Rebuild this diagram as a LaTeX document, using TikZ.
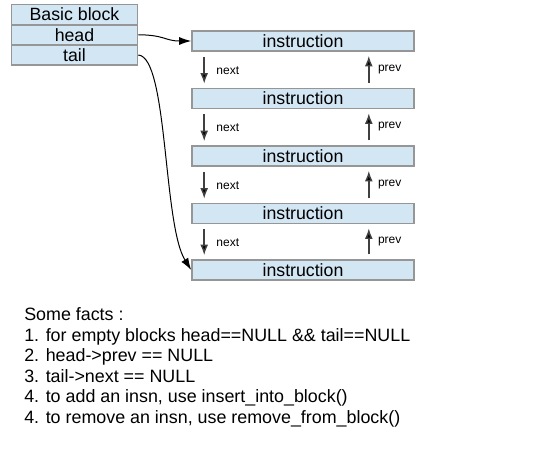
\documentclass[tikz,border=0pt]{standalone}
\usepackage{fontspec}
\setmainfont{Liberation Sans}
\usetikzlibrary{arrows.meta,calc}
\definecolor{boxfill}{RGB}{210,230,244}
\definecolor{boxdraw}{RGB}{150,150,150}
\begin{document}
\begin{tikzpicture}[x=0.75pt,y=-0.75pt,
  cell/.style={draw=boxdraw,fill=boxfill,line width=1.2pt,minimum width=126*0.75pt,minimum height=20*0.75pt,inner sep=0pt,font=\fontsize{13.3}{15}\selectfont},
  insn/.style={draw=boxdraw,fill=boxfill,line width=1.2pt,minimum width=222*0.75pt,minimum height=20*0.75pt,inner sep=0pt,font=\fontsize{13.3}{15}\selectfont},
  ptr/.style={draw=black!75,line width=1.1pt,-{Latex[length=8pt,width=6pt,fill=black]}},
  lnk/.style={draw=black,line width=0.75pt,-{Latex[length=9pt,width=6pt]}},
  lbl/.style={font=\fontsize{9}{10}\selectfont,anchor=west,inner sep=0pt},
  fact/.style={font=\fontsize{13.4}{15}\selectfont,anchor=base west,inner sep=0pt}]
\useasboundingbox (0,0) rectangle (538,453);
\node[cell] (bb) at (74.5,14.5) {Basic block};
\node[cell] (head) at (74.5,34.75) {head};
\node[cell] (tail) at (74.5,55) {tail};
\foreach \i/\y in {1/41,2/98.5,3/156,4/213.5,5/270}{
  \node[insn] (i\i) at (303,\y) {instruction};
}
\foreach \a/\b in {1/2,2/3,3/4,4/5}{
  \coordinate (ns\a) at ($(i\a.south west)+(13,5)$);
  \coordinate (ne\a) at ($(i\b.north west)+(13,-4)$);
  \coordinate (ps\a) at ($(i\b.north east)+(-46,-5)$);
  \coordinate (pe\a) at ($(i\a.south east)+(-46,4)$);
  \draw[ptr] (ns\a) -- (ne\a);
  \draw[ptr] (ps\a) -- (pe\a);
  \node[lbl] (nl\a) at ($(ns\a)!0.5!(ne\a)+(12,0)$) {next};
  \node[lbl] (pl\a) at ($(ps\a)!0.5!(pe\a)+(9,0)$) {prev};
}
\draw[lnk] (head.east) .. controls (165,35) and (165,41) .. (i1.west);
\draw[lnk] (tail.east) .. controls (168,57) and (163,225) .. (i5.west);
\node[fact] (f0) at (24,320.5) {Some facts :};
\node[fact] (f1) at (24,341) {1. for empty blocks head==NULL \&\& tail==NULL};
\node[fact] (f2) at (24,361.5) {2. head->prev == NULL};
\node[fact] (f3) at (24,382) {3. tail->next == NULL};
\node[fact] (f4) at (24,402.5) {4. to add an insn, use insert\_into\_block()};
\node[fact] (f5) at (24,423) {4. to remove an insn, use remove\_from\_block()};
\end{tikzpicture}
\end{document}
